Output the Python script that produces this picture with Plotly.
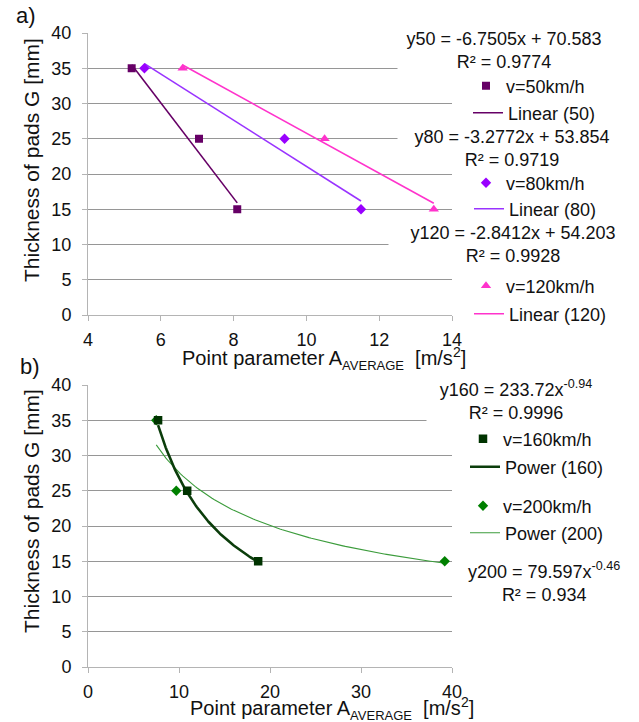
import numpy as np
import plotly.graph_objects as go

FONT = "Liberation Sans, Arial, sans-serif"
W, H = 639, 722

# ---- panel a: linear fits ----
thickness = [35, 25, 15]
a_v50 = [5.2, 7.05, 8.1]
a_v80 = [5.55, 9.4, 11.5]
a_v120 = [6.6, 10.5, 13.5]
lin50 = [-6.7505, 70.583]     # slope, intercept
lin80 = [-3.2772, 53.854]
lin120 = [-2.8412, 54.203]
r2_a = [0.9774, 0.9719, 0.9928]

# ---- panel b: power fits ----
b_v160 = [7.7, 10.9, 18.7]
b_v200 = [7.5, 9.7, 39.2]
pow160 = [233.72, -0.94]      # coefficient, exponent
pow200 = [79.597, -0.46]
r2_b = [0.9996, 0.934]

C50, C80, C120 = "#660066", "#9900ff", "#ff33cc"
L80 = "#9933ff"
C160, C200 = "#003300", "#008000"
L160, L200 = "#0b3d0b", "#3c9c3c"


def px_x(p):
    return p / W


def px_y(p):
    return (H - p) / H


def linear_line(xs, coef, n=2):
    xx = np.linspace(min(xs), max(xs), n)
    return xx, coef[0] * xx + coef[1]


def power_line(xs, coef, n=120):
    xx = np.linspace(min(xs), max(xs), n)
    return xx, coef[0] * xx ** coef[1]


fig = go.Figure()

# panel a
for xs, coef, col, name, leg in [
    (a_v50, lin50, C50, "Linear (50)", "legend2"),
    (a_v80, lin80, L80, "Linear (80)", "legend4"),
    (a_v120, lin120, C120, "Linear (120)", "legend6"),
]:
    lx, ly = linear_line(xs, coef)
    fig.add_trace(go.Scatter(x=lx, y=ly, mode="lines", name=name, legend=leg,
                             line=dict(color=col, width=1.6),
                             xaxis="x", yaxis="y"))

for xs, col, sym, size, name, leg in [
    (a_v50, C50, "square", 8, "v=50km/h", "legend"),
    (a_v80, C80, "diamond", 8, "v=80km/h", "legend3"),
    (a_v120, C120, "triangle-up", 9, "v=120km/h", "legend5"),
]:
    fig.add_trace(go.Scatter(x=xs, y=thickness, mode="markers", name=name, legend=leg,
                             marker=dict(color=col, symbol=sym, size=size),
                             xaxis="x", yaxis="y"))

# panel b
px200, py200 = power_line(b_v200, pow200)
fig.add_trace(go.Scatter(x=px200, y=py200, mode="lines", name="Power (200)", legend="legend10",
                         line=dict(color=L200, width=1.1), xaxis="x2", yaxis="y2"))
px160, py160 = power_line(b_v160, pow160)
fig.add_trace(go.Scatter(x=px160, y=py160, mode="lines", name="Power (160)", legend="legend8",
                         line=dict(color=L160, width=2.6), xaxis="x2", yaxis="y2"))
fig.add_trace(go.Scatter(x=b_v200, y=thickness, mode="markers", name="v=200km/h", legend="legend9",
                         marker=dict(color=C200, symbol="diamond", size=8),
                         xaxis="x2", yaxis="y2"))
fig.add_trace(go.Scatter(x=b_v160, y=thickness, mode="markers", name="v=160km/h", legend="legend7",
                         marker=dict(color=C160, symbol="square", size=8.5),
                         xaxis="x2", yaxis="y2"))

axis_common = dict(
    showline=True, linecolor="#b4b4b4", linewidth=1,
    showgrid=False, zeroline=False,
    ticks="outside", ticklen=5, tickcolor="#b4b4b4",
    tickfont=dict(family=FONT, size=18, color="#111"),
)
xaxis_common = dict(axis_common, ticklabelstandoff=3)
yaxis_common = dict(axis_common, showgrid=True, gridcolor="#969696", gridwidth=1,
                    range=[0, 40], dtick=5, ticklabelstandoff=7)

x_dom = [px_x(88), px_x(452)]
fig.update_layout(
    width=W, height=H,
    margin=dict(l=0, r=0, t=0, b=0, autoexpand=False),
    paper_bgcolor="white", plot_bgcolor="white",
    showlegend=True,
    font=dict(family=FONT, size=18, color="#111"),
    xaxis=dict(xaxis_common, domain=x_dom, range=[4, 14], dtick=2, anchor="y"),
    yaxis=dict(yaxis_common, domain=[px_y(315), px_y(33)], anchor="x"),
    xaxis2=dict(xaxis_common, domain=x_dom, range=[0, 40], dtick=10, anchor="y2"),
    yaxis2=dict(yaxis_common, domain=[px_y(667), px_y(385)], anchor="x2"),
)

# one legend per entry so each row sits between the fit labels
legend_rows = [
    ("legend", 466, 86), ("legend2", 468, 113),
    ("legend3", 466, 183), ("legend4", 469, 209),
    ("legend5", 466, 286), ("legend6", 469, 314),
    ("legend7", 463, 439), ("legend8", 465, 467),
    ("legend9", 463, 506), ("legend10", 465, 533),
]
for key, lx, ly in legend_rows:
    fig.update_layout({key: dict(x=px_x(lx), y=px_y(ly), xanchor="left", yanchor="middle",
                                 bgcolor="rgba(0,0,0,0)", borderwidth=0, visible=True,
                                 font=dict(family=FONT, size=18, color="#111"))})

ann = []


def label(text, cx, cy, size=18, **kw):
    ann.append(dict(text=text, x=px_x(cx), y=px_y(cy), xref="paper", yref="paper",
                    xanchor="center", yanchor="middle",
                    showarrow=False, font=dict(family=FONT, size=size, color="#111"), **kw))


def fmt(v):
    return f"{v:g}"


# fit equations (white label boxes, as the chart's trendline labels)
label(f"y50 = {fmt(lin50[0])}x + {fmt(lin50[1])}<br>R² = {r2_a[0]}", 504, 51,
      bgcolor="white", borderpad=3, width=206)
label(f"y80 = {fmt(lin80[0])}x + {fmt(lin80[1])}<br>R² = {r2_a[1]}", 512, 148,
      bgcolor="white", borderpad=3, width=222)
label(f"y120 = {fmt(lin120[0])}x + {fmt(lin120[1])}<br>R² = {r2_a[2]}", 513, 244,
      bgcolor="white", borderpad=3, width=242)
label(f"y160 = {fmt(pow160[0])}x<sup>{fmt(pow160[1])}</sup><br>R² = {r2_b[0]}", 516, 400,
      bgcolor="white", borderpad=3, width=172)
label(f"y200 = {fmt(pow200[0])}x<sup>{fmt(pow200[1])}</sup><br>R² = {r2_b[1]}", 544, 582,
      bgcolor="white", borderpad=3)

# axis titles
xtitle = ("Point parameter A<sub><span style=\"font-size:13px\">AVERAGE</span></sub>"
          "  [m/s<sup>2</sup>]")
label(xtitle, 324, 358, size=20)
label(xtitle, 332, 708, size=20)
label("Thickness of pads G [mm]", 31, 160, size=21, textangle=-90)
label("Thickness of pads G [mm]", 31, 511, size=21, textangle=-90)

# panel letters
label("a)", 26, 15, size=22)
label("b)", 30, 366, size=22)

fig.update_layout(annotations=ann)
fig.write_html("out.html")
